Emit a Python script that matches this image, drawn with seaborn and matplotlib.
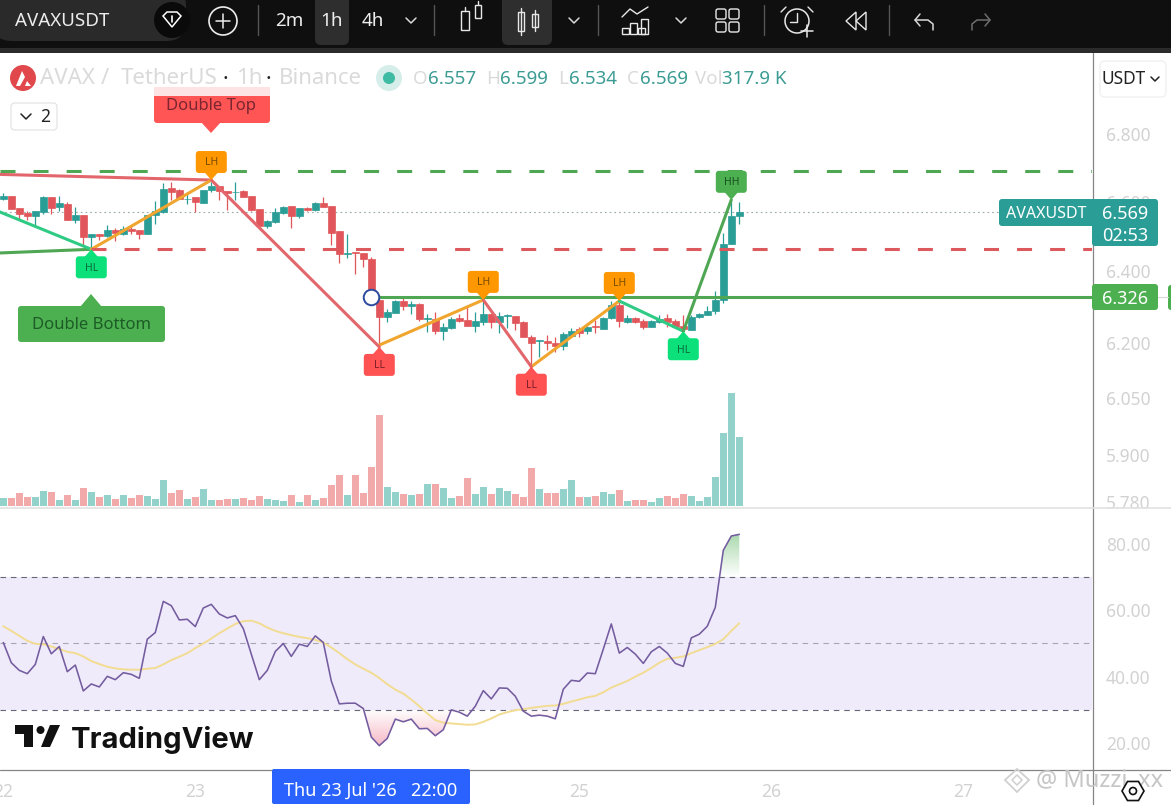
"""Hourly AVAX/USDT chart with volume and RSI panes, redrawn from a screenshot."""
import numpy as np
import pandas as pd
import matplotlib
matplotlib.use("Agg")
import matplotlib.pyplot as plt
from matplotlib.patches import Circle, FancyBboxPatch, Polygon, Rectangle
from matplotlib.path import Path
from matplotlib.ticker import NullLocator
import seaborn as sns

W, H = 1171, 805

# ---------------------------------------------------------------- data
OPENS = [6.608, 6.616, 6.580, 6.567, 6.558, 6.569, 6.613, 6.584, 6.594, 6.546, 6.560, 6.497,
         6.507, 6.501, 6.517, 6.507, 6.519, 6.517, 6.506, 6.561, 6.569, 6.639, 6.633, 6.606,
         6.613, 6.595, 6.633, 6.645, 6.632, 6.627, 6.630, 6.616, 6.578, 6.528, 6.540, 6.566,
         6.586, 6.557, 6.581, 6.575, 6.595, 6.586, 6.514, 6.449, 6.454, 6.451, 6.434, 6.318,
         6.272, 6.283, 6.315, 6.303, 6.307, 6.267, 6.267, 6.233, 6.241, 6.270, 6.263, 6.247,
         6.257, 6.281, 6.257, 6.275, 6.274, 6.257, 6.216, 6.206, 6.204, 6.201, 6.191, 6.219,
         6.237, 6.232, 6.246, 6.239, 6.269, 6.304, 6.257, 6.270, 6.259, 6.244, 6.258, 6.268,
         6.261, 6.246, 6.236, 6.272, 6.278, 6.288, 6.318, 6.478, 6.557]
HIGHS = [6.626, 6.616, 6.580, 6.572, 6.571, 6.615, 6.613, 6.617, 6.600, 6.583, 6.560, 6.507,
         6.507, 6.531, 6.522, 6.528, 6.528, 6.517, 6.561, 6.601, 6.653, 6.656, 6.636, 6.622,
         6.613, 6.635, 6.658, 6.645, 6.632, 6.658, 6.635, 6.616, 6.578, 6.546, 6.580, 6.586,
         6.586, 6.581, 6.585, 6.599, 6.614, 6.586, 6.514, 6.506, 6.454, 6.451, 6.439, 6.328,
         6.293, 6.320, 6.323, 6.315, 6.309, 6.281, 6.286, 6.254, 6.272, 6.279, 6.298, 6.285,
         6.318, 6.281, 6.285, 6.281, 6.274, 6.260, 6.221, 6.209, 6.221, 6.217, 6.230, 6.240,
         6.243, 6.247, 6.263, 6.272, 6.317, 6.314, 6.277, 6.272, 6.267, 6.262, 6.277, 6.279,
         6.267, 6.277, 6.277, 6.283, 6.303, 6.345, 6.509, 6.604, 6.599]
LOWS = [6.604, 6.578, 6.548, 6.547, 6.526, 6.565, 6.564, 6.572, 6.546, 6.539, 6.475, 6.465,
        6.490, 6.498, 6.486, 6.503, 6.506, 6.491, 6.506, 6.536, 6.567, 6.604, 6.607, 6.594,
        6.570, 6.595, 6.629, 6.604, 6.575, 6.604, 6.613, 6.573, 6.526, 6.522, 6.538, 6.565,
        6.523, 6.551, 6.573, 6.573, 6.584, 6.474, 6.422, 6.436, 6.392, 6.411, 6.324, 6.194,
        6.258, 6.283, 6.292, 6.279, 6.261, 6.230, 6.224, 6.208, 6.238, 6.258, 6.247, 6.231,
        6.249, 6.240, 6.226, 6.240, 6.235, 6.217, 6.136, 6.162, 6.180, 6.175, 6.180, 6.215,
        6.217, 6.224, 6.228, 6.237, 6.267, 6.244, 6.254, 6.254, 6.237, 6.243, 6.256, 6.244,
        6.240, 6.237, 6.235, 6.270, 6.276, 6.281, 6.309, 6.478, 6.534]
CLOSES = [6.616, 6.578, 6.564, 6.558, 6.571, 6.613, 6.581, 6.595, 6.546, 6.560, 6.498, 6.507,
          6.499, 6.517, 6.508, 6.519, 6.514, 6.506, 6.561, 6.573, 6.636, 6.629, 6.607, 6.608,
          6.598, 6.635, 6.645, 6.631, 6.624, 6.629, 6.613, 6.575, 6.528, 6.543, 6.569, 6.584,
          6.558, 6.581, 6.575, 6.595, 6.584, 6.508, 6.449, 6.451, 6.451, 6.433, 6.324, 6.272,
          6.285, 6.315, 6.302, 6.308, 6.265, 6.270, 6.233, 6.243, 6.267, 6.260, 6.247, 6.259,
          6.281, 6.257, 6.273, 6.277, 6.254, 6.217, 6.199, 6.208, 6.200, 6.191, 6.224, 6.234,
          6.228, 6.244, 6.243, 6.270, 6.304, 6.261, 6.270, 6.257, 6.244, 6.259, 6.266, 6.258,
          6.243, 6.237, 6.272, 6.280, 6.287, 6.318, 6.478, 6.557, 6.569]
VOLUME_K = [37, 37, 60, 41, 41, 69, 64, 28, 51, 28, 83, 64, 41, 51, 32, 51, 37, 51, 46, 32, 120, 60,
            74, 32, 41, 78, 28, 28, 32, 32, 37, 28, 46, 32, 28, 23, 51, 18, 51, 28, 37, 97, 143, 51,
            143, 60, 179, 419, 87, 64, 55, 51, 55, 101, 101, 83, 37, 46, 129, 55, 87, 55, 83, 69,
            55, 41, 175, 78, 60, 60, 78, 120, 41, 41, 46, 64, 55, 74, 23, 28, 28, 18, 37, 46, 37,
            55, 46, 23, 41, 133, 336, 520, 318]
RSI = [50.3, 44.2, 41.9, 40.9, 43.7, 52.1, 46.9, 49.1, 41.5, 43.5, 35.7, 37.8, 36.9, 40.1, 39.1,
       41.2, 40.7, 39.5, 51.3, 53.3, 62.7, 61.4, 57.1, 57.3, 55.1, 60.7, 61.8, 58.9, 57.7, 58.4,
       54.5, 46.8, 39.1, 41.9, 47.6, 50.0, 46.1, 49.8, 49.1, 52.3, 50.3, 38.7, 31.8, 32.0, 32.0,
       30.4, 21.8, 19.2, 21.4, 27.2, 26.4, 27.2, 24.3, 24.4, 22.2, 24.0, 30.0, 29.3, 28.1, 31.1,
       35.8, 33.3, 36.6, 36.5, 34.1, 29.6, 28.1, 28.4, 28.1, 27.3, 36.2, 38.9, 38.6, 41.1, 40.9,
       48.3, 55.9, 47.1, 48.8, 46.8, 44.0, 47.5, 49.1, 47.1, 44.0, 43.1, 51.7, 52.8, 55.2, 60.9,
       78.1, 82.4, 82.9]
RSI_MA = [55.2, 53.8, 52.3, 50.8, 49.9, 49.8, 49.1, 48.3, 47.5, 47.1, 46.1, 44.7, 43.8, 43.0, 42.5,
          42.2, 42.1, 42.1, 42.4, 42.6, 43.7, 45.0, 46.0, 47.1, 48.6, 50.0, 51.5, 53.1, 54.5, 55.9,
          56.7, 56.9, 56.1, 54.8, 53.8, 53.1, 52.5, 52.0, 51.6, 51.1, 50.3, 48.8, 47.1, 45.3, 43.7,
          42.4, 41.2, 39.6, 37.7, 36.1, 34.9, 33.1, 31.1, 28.9, 26.9, 26.1, 25.9, 25.7, 25.5, 25.6,
          26.4, 27.4, 28.6, 29.3, 29.9, 30.2, 30.6, 30.9, 31.2, 31.3, 31.8, 32.5, 33.1, 33.8, 34.2,
          35.3, 36.7, 37.7, 38.7, 40.0, 41.2, 42.6, 44.2, 45.4, 45.7, 46.1, 47.1, 48.0, 48.9, 49.9,
          51.3, 53.8, 56.1]

# market structure lines: (candle index, price) pairs
TOP_RED_K, TOP_RED_P = [-1, 26], [6.680, 6.663]
BOTTOM_MINT_K, BOTTOM_MINT_P = [-1, 11], [6.575, 6.462]
BOTTOM_GREEN_K, BOTTOM_GREEN_P = [-1, 11], [6.451, 6.462]
ORANGE_LEGS = [([11, 26], [6.462, 6.663]), ([47, 60], [6.194, 6.319]), ([66, 77], [6.135, 6.316])]
RED_LEGS = [([26, 47], [6.663, 6.189]), ([60, 66], [6.319, 6.135])]
MINT_K, MINT_P = [77, 85], [6.316, 6.232]
GREEN_K, GREEN_P = [85, 91], [6.232, 6.605]
RESIST_LEVEL, SUPPORT_LEVEL, BREAK_LEVEL, LAST_PRICE = 6.690, 6.462, 6.326, 6.569
BREAK_K = 46
PIVOT_TAGS = [(11, 6.462, "HL", "#0BE07A", "#0C6B3C", "below"), (26, 6.663, "LH", "#FF9800", "#7A4A05", "above"),
              (47, 6.189, "LL", "#FF5252", "#7A1F28", "below"), (60, 6.319, "LH", "#FF9800", "#7A4A05", "above"),
              (66, 6.135, "LL", "#FF5252", "#7A1F28", "below"), (77, 6.316, "LH", "#FF9800", "#7A4A05", "above"),
              (85, 6.232, "HL", "#0BE07A", "#0C6B3C", "below"), (91, 6.605, "HH", "#4CAF50", "#17501F", "above")]

PRICE_TICKS = [6.8, 6.6, 6.4, 6.2, 6.05, 5.9, 5.78]
RSI_TICKS = [80, 60, 40, 20]
DAY_K = [0, 24, 72, 96, 120]
DAY_LABELS = ["22", "23", "25", "26", "27"]

TEAL, RED = "#2A9D96", "#E0565A"
GREY_TXT = "#D2D2D2"
FONT = ["Noto Sans", "DejaVu Sans"]

# ---------------------------------------------------------------- setup
sns.set_theme(style="white")
plt.rcParams["font.family"] = FONT
plt.rcParams["lines.scale_dashes"] = False

k = np.arange(len(OPENS))
opens, highs, lows, closes = map(np.array, (OPENS, HIGHS, LOWS, CLOSES))
up = closes >= opens
candle_colors = np.where(up, TEAL, RED)
XLIM = (-3.3 / 8, (1092 - 3.3) / 8)


def pane(x0, y0, x1, y1):
    return fig.add_axes([x0 / W, 1 - y1 / H, (x1 - x0) / W, (y1 - y0) / H])


fig = plt.figure(figsize=(W / 100, H / 100), dpi=100, facecolor="white")

# ---------------------------------------------------------------- volume + candles
ax_p = pane(0, 53, 1092, 507)
ax_p.set_yscale("log")
ax_v = ax_p.twinx()
ax_v.set_zorder(1)
ax_p.set_zorder(2)
ax_p.patch.set_visible(False)

vol_df = pd.DataFrame({"k": k, "vol": VOLUME_K, "side": np.where(up, "up", "down")})
sns.barplot(data=vol_df, x="k", y="vol", hue="side", palette={"up": "#93D1CB", "down": "#F1A9A9"},
            native_scale=True, dodge=False, width=0.87, saturation=1, errorbar=None,
            linewidth=0, legend=False, ax=ax_v)
ax_v.set_ylim(-4.6, 2083)
ax_v.set_axis_off()

ax_p.axhline(LAST_PRICE, color="#9AA8A8", lw=0.8, ls=(0, (1.2, 2.2)), zorder=1)
ax_p.vlines(k, lows, highs, colors=candle_colors, lw=0.9, zorder=2)
ax_p.bar(k, np.abs(closes - opens), bottom=np.minimum(opens, closes), width=0.85,
         color=candle_colors, edgecolor=candle_colors, linewidth=0.5, zorder=3)


def leg(xs, ys, color):
    sns.lineplot(x=xs, y=ys, color=color, lw=2.2, estimator=None, sort=False, ax=ax_p, zorder=4)


leg(TOP_RED_K, TOP_RED_P, "#E2666B")
leg(BOTTOM_GREEN_K, BOTTOM_GREEN_P, "#4FA754")
leg(BOTTOM_MINT_K, BOTTOM_MINT_P, "#2FCB85")
for xs, ys in ORANGE_LEGS:
    leg(xs, ys, "#F0A52F")
for xs, ys in RED_LEGS:
    leg(xs, ys, "#E2666B")
leg(MINT_K, MINT_P, "#2FCB85")
leg(GREEN_K, GREEN_P, "#4FA754")

dash = (0, (10.8, 13))
ax_p.axhline(RESIST_LEVEL, color="#4FA754", lw=2.2, ls=dash, dash_capstyle="butt", zorder=4)
ax_p.hlines(SUPPORT_LEVEL, 11, XLIM[1], color="#DC5A5E", lw=2.2, ls=dash, zorder=4)
ax_p.hlines(BREAK_LEVEL, BREAK_K, XLIM[1], color="#4FA754", lw=2.2, zorder=4)
ax_p.scatter([BREAK_K], [BREAK_LEVEL], s=125, facecolor="white", edgecolor="#2C4A9E", linewidth=1.4, zorder=5)

ax_p.set_xlim(*XLIM)
ax_p.set_ylim(5.766, 7.048)
ax_p.yaxis.tick_right()
ax_p.set_yticks(PRICE_TICKS, labels=[f"{v:.3f}" for v in PRICE_TICKS])
ax_p.yaxis.set_minor_locator(NullLocator())
ax_p.set_xticks([])
ax_p.tick_params(axis="y", length=0, pad=10, labelsize=12.5, labelcolor=GREY_TXT)
for s in ax_p.spines.values():
    s.set_visible(False)

# ---------------------------------------------------------------- RSI
ax_r = pane(0, 508, 1092, 769)
ax_r.axhspan(30, 70, color="#F0EBFA", lw=0, zorder=0)
for level, shade in [(70, "#66687A"), (50, "#A8A6B4"), (30, "#66687A")]:
    ax_r.axhline(level, color=shade, lw=0.8, ls=(0, (4, 3.5)), zorder=1)

rsi, rsi_ma = np.array(RSI), np.array(RSI_MA)


def gradient_fill(where, base, far, rgb):
    """Fade from transparent at the base level to rgb at the far level, clipped to the RSI curve."""
    poly = ax_r.fill_between(k, rsi, base, where=where, interpolate=True, color="none")
    clip = Path.make_compound_path(*poly.get_paths())
    alpha = np.linspace(0, 1, 64)
    img = np.ones((64, 1, 4))
    img[..., :3] = matplotlib.colors.to_rgb(rgb)
    img[:, 0, 3] = alpha
    im = ax_r.imshow(img, extent=[XLIM[0], XLIM[1], far, base], origin="upper", aspect="auto",
                     zorder=1.5, interpolation="bilinear")
    im.set_clip_path(clip, transform=ax_r.transData)


gradient_fill(rsi < 30, 30, 19, "#F7B9C6")
gradient_fill(rsi > 70, 70, 83, "#A9D8AC")

sns.lineplot(x=k, y=rsi_ma, color="#F2DC92", lw=1.4, estimator=None, ax=ax_r, zorder=2)
sns.lineplot(x=k, y=rsi, color="#735C9F", lw=1.15, estimator=None, ax=ax_r, zorder=3)

ax_r.set_xlim(*XLIM)
ax_r.set_ylim(12.17, 90.84)
ax_r.yaxis.tick_right()
ax_r.set_yticks(RSI_TICKS, labels=[f"{v:.2f}" for v in RSI_TICKS])
ax_r.set_xticks(DAY_K, labels=DAY_LABELS)
ax_r.tick_params(axis="y", length=0, pad=10, labelsize=12.5, labelcolor=GREY_TXT)
ax_r.tick_params(axis="x", length=0, pad=10, labelsize=12.5, labelcolor=GREY_TXT)
for s in ax_r.spines.values():
    s.set_visible(False)

# ---------------------------------------------------------------- overlay in screen pixels
ov = fig.add_axes([0, 0, 1, 1], zorder=10)
ov.set_xlim(0, W)
ov.set_ylim(H, 0)
ov.axis("off")
ov.patch.set_visible(False)


def box(x0, y0, x1, y1, color, r=3, ec="none", lw=0, z=3):
    ov.add_patch(FancyBboxPatch((x0, y0), x1 - x0, y1 - y0, boxstyle=f"round,pad=0,rounding_size={r}",
                                fc=color, ec=ec, lw=lw, zorder=z))


def line(xs, ys, color="#E8E8E8", lw=1.0, z=4):
    ov.plot(xs, ys, color=color, lw=lw, zorder=z, solid_capstyle="round")


def txt(x, y, s, color, size=12.5, ha="center", weight="normal", z=5, **kw):
    # centred text sits a little high in this font, nudge it down
    ov.text(x, y + 1.8, s, color=color, fontsize=size, ha=ha, va="center", fontweight=weight, zorder=z, **kw)


def to_screen(ki, price):
    x, y = ax_p.transData.transform((ki, price))
    return x, H - y


def tag(ki, price, s, color, ink, where, half_w=15.5, height=22, gap=7, size=7.5):
    x, y = to_screen(ki, price)
    sign = -1 if where == "above" else 1
    near = y + sign * gap
    far = near + sign * height
    box(x - half_w, min(near, far), x + half_w, max(near, far), color, z=6)
    ov.add_patch(Polygon([(x - 7, near + sign), (x + 7, near + sign), (x, y)], fc=color, ec="none", zorder=6))
    txt(x, (near + far) / 2 - 1, s, ink, size=size, z=7)


for ki, price, s, color, ink, where in PIVOT_TAGS:
    tag(ki, price, s, color, ink, where)

# pattern callouts
box(154, 87, 270, 123, "#FF5555", z=6)
ov.add_patch(Rectangle((154, 87), 116, 9, fc="#FDE3E3", ec="none", zorder=6.1))
ov.add_patch(Polygon([(201, 122), (221, 122), (211, 133)], fc="#FF5555", ec="none", zorder=6))
txt(211, 104, "Double Top", "#7A2530", size=12, z=7)
box(18, 306, 165, 342, "#4CAF50", z=6)
ov.add_patch(Polygon([(80, 307), (102, 307), (91, 294)], fc="#4CAF50", ec="none", zorder=6))
txt(91, 323, "Double Bottom", "#1D5C26", size=12, z=7)

# frame lines
line([1092.5, 1092.5], [53, H], "#858585", 0.9, z=2)
line([0, W], [507.5, 507.5], "#E2E2E2", 1.2, z=2)
line([0, W], [769.5, 769.5], "#858585", 0.9, z=2)

# price tags
box(999, 199, 1096, 226, TEAL, z=3)
txt(1046, 212, "AVAXUSDT", "white", size=11.5, weight="medium")
box(1092, 199, 1158, 246, TEAL, z=3)
txt(1125, 212, "6.569", "white", size=13, weight="bold")
txt(1125, 234, "02:53", "white", size=13)
box(1092, 284, 1158, 310, "#4CAF50", z=3)
txt(1125, 297, "6.326", "white", size=13, weight="bold")
line([1158, 1168], [297, 297], "#D8D8D8", 0.8)
box(1168, 285, 1180, 310, "#4CAF50", z=3)

# crosshair date
box(272, 769, 470, 804, "#2962FF", r=2, z=3)
txt(371, 789, "Thu 23 Jul '26   22:00", "white", size=13, weight="medium")

# legend row
ov.add_patch(Circle((23, 78), 13, fc="#E0484C", ec="none", zorder=4))
ov.add_patch(Polygon([(16, 86), (22, 71), (25, 77), (20, 86)], fc="white", ec="none", zorder=5))
ov.add_patch(Polygon([(25, 86), (27, 81), (31, 86)], fc="white", ec="none", zorder=5))
txt(40, 77, "AVAX", "#DADADA", size=16, ha="left")
txt(105, 77, "/", "#DADADA", size=16, ha="center")
txt(121, 77, "TetherUS", "#DADADA", size=16, ha="left")
txt(225, 78, "·", "#222222", size=15.5, weight="bold")
txt(236, 77, "1h", "#DADADA", size=16, ha="left")
txt(268, 78, "·", "#222222", size=15.5, weight="bold")
txt(279, 77, "Binance", "#DADADA", size=16, ha="left")
ov.add_patch(Circle((389, 78), 13, fc="#D6EEEA", ec="none", zorder=4))
ov.add_patch(Circle((389, 78), 6, fc="#3FBBA4", ec="none", zorder=5))
for x_l, label, x_v, val in [(413, "O", 428, "6.557"), (486, "H", 500, "6.599"), (558, "L", 569, "6.534"),
                             (627, "C", 640, "6.569"), (695, "Vol", 722, "317.9 K")]:
    txt(x_l, 77, label, "#DADADA", size=13.5, ha="left")
    txt(x_v, 77, val, "#3C9C94", size=13.5, ha="left", weight="medium")

box(11, 103, 57, 130, "white", r=4, ec="#E4E4E4", lw=0.9, z=3)
line([21, 26, 31], [114, 119, 114], "#222222", 1.1)
txt(45, 115, "2", "#222222", size=12.5)

box(1100, 61, 1166, 97, "white", r=5, ec="#EFEFEF", lw=0.9, z=3)
txt(1124, 77, "USDT", "#222222", size=12.5)
line([1151, 1155, 1159], [77, 81, 77], "#222222", 1.1)

# TradingView mark
ov.add_patch(Polygon([(15, 725), (33, 725), (33, 747), (24, 747), (24, 734), (15, 734)], fc="#111111", ec="none", zorder=5))
ov.add_patch(Circle((40.5, 730), 4, fc="#111111", ec="none", zorder=5))
ov.add_patch(Polygon([(50, 725), (60, 725), (50, 747), (41, 747)], fc="#111111", ec="none", zorder=5))
ov.text(71, 740, "TradingView", color="#111111", fontsize=21, family="Inter", fontweight="bold",
        ha="left", va="center", zorder=5)

# watermark + settings
ov.add_patch(Polygon([(1017, 769), (1029, 780), (1017, 792), (1005, 780)], fc="none", ec="#D0D0D0", lw=1.3, zorder=5))
ov.add_patch(Polygon([(1017, 775), (1022, 780), (1017, 785), (1012, 780)], fc="none", ec="#D0D0D0", lw=1.1, zorder=5))
txt(1036, 779, "@ Muzzi_xx", "#C6C6C6", size=17, ha="left")
hx = 1133 + 11 * np.cos(np.arange(6) * np.pi / 3)
hy = 791 + 11 * np.sin(np.arange(6) * np.pi / 3)
ov.add_patch(Polygon(np.column_stack([hx, hy]), fc="white", ec="#111111", lw=1.2, zorder=6))
ov.add_patch(Circle((1133, 791), 3.5, fc="none", ec="#111111", lw=1.2, zorder=6))

# ---------------------------------------------------------------- toolbar
ov.add_patch(Rectangle((0, 0), W, 48, fc="#0F0F0F", ec="none", zorder=3))
ov.add_patch(Rectangle((0, 48), W, 5, fc="#2B2B2B", ec="none", zorder=3))
box(-8, -14, 186, 41, "#2A2A2A", r=20, z=4)
txt(15, 19, "AVAXUSDT", "#EDEDED", size=13.5, ha="left", weight="bold")
ov.add_patch(Circle((172, 20), 18, fc="#0A0A0A", ec="none", zorder=5))
ov.add_patch(Polygon([(163, 16), (167, 12), (177, 12), (181, 16), (172, 27)], fc="none", ec="white", lw=1.1, zorder=6))
line([172, 172], [16, 22], "white", 1.2, z=6)
ov.add_patch(Circle((223, 21), 14, fc="none", ec="#EDEDED", lw=1.2, zorder=5))
line([216, 230], [21, 21], "#EDEDED", 1.1)
line([223, 223], [14, 28], "#EDEDED", 1.1)
for sep in (258, 434, 598, 764, 889):
    line([sep, sep], [5, 35], "#555555", 1.0)
box(315, -8, 349, 45, "#2E2E2E", r=6, z=4)
box(502, -8, 552, 45, "#2E2E2E", r=6, z=4)
for x, s in [(289, "2m"), (332, "1h"), (373, "4h")]:
    txt(x, 19, s, "#EDEDED", size=13.5, weight="medium")
for x in (411, 574, 681):
    line([x - 5, x, x + 5], [18, 23, 18], "#D8D8D8", 1.1)
for x, y0, y1, w0, w1 in [(465, 11, 30, 8, 8), (478, 5, 18, 6, 6)]:
    ov.add_patch(Rectangle((x - w0 / 2, y0), w0, y1 - y0, fc="none", ec="#E8E8E8", lw=1.0, zorder=5))
    line([x, x], [y0 - 4, y0], "#E8E8E8", 1.0)
for x, y0, y1 in [(521, 12, 31), (535, 14, 27)]:
    ov.add_patch(Rectangle((x - 3, y0), 6, y1 - y0, fc="none", ec="#E8E8E8", lw=1.0, zorder=5))
    line([x, x], [y0 - 4, y1 + 4], "#E8E8E8", 1.0)
for x0, y0, h0 in [(622, 28, 6), (630, 23, 11), (638, 28, 6), (641, 19, 15)]:
    ov.add_patch(Rectangle((x0, y0), 7, h0, fc="none", ec="#E8E8E8", lw=1.0, zorder=5))
line([622, 630, 637, 648], [17, 9, 14, 7], "#E8E8E8", 1.0)
for x0, y0 in [(716, 9), (729, 9), (716, 22), (729, 22)]:
    box(x0, y0, x0 + 10, y0 + 10, "none", r=2, ec="#E8E8E8", lw=1.0, z=5)
ov.add_patch(Circle((797, 21), 12, fc="none", ec="#E8E8E8", lw=1.1, zorder=5))
line([797, 797, 790], [13, 22, 22], "#E8E8E8", 1.0)
line([801, 813], [31, 31], "#E8E8E8", 1.1, z=6)
line([807, 807], [25, 37], "#E8E8E8", 1.1, z=6)
line([786, 781], [7, 12], "#E8E8E8", 1.0)
line([808, 813], [7, 12], "#E8E8E8", 1.0)
ov.add_patch(Polygon([(856, 12), (846, 21), (856, 30)], fc="none", ec="#E8E8E8", lw=1.0, zorder=5))
ov.add_patch(Polygon([(866, 12), (856, 21), (866, 30)], fc="none", ec="#E8E8E8", lw=1.0, zorder=5))
line([920, 915, 920], [14, 20, 26], "#D8D8D8", 1.1)
line([915, 928, 933, 933], [20, 20, 24, 30], "#D8D8D8", 1.1)
line([985, 990, 985], [14, 20, 26], "#6E6E6E", 1.1)
line([990, 977, 972, 972], [20, 20, 24, 30], "#6E6E6E", 1.1)

fig.savefig("out.png", dpi=100)
